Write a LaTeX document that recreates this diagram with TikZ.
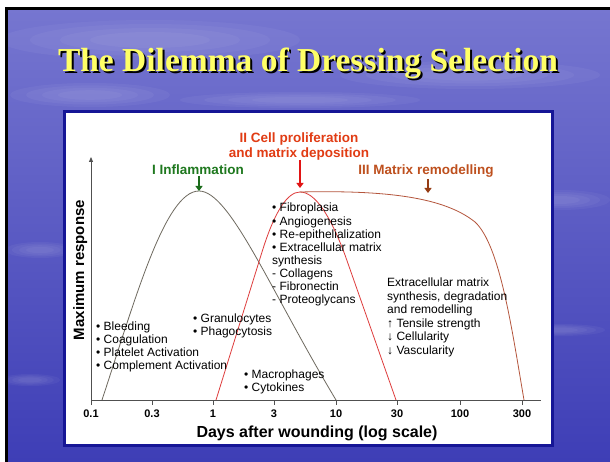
\documentclass[tikz,border=0pt]{standalone}
\usepackage{fontspec}
\setmainfont{Liberation Sans}
\newfontfamily\titlefont{Liberation Serif}
\usetikzlibrary{arrows.meta}
\definecolor{bgtop}{RGB}{118,118,208}
\definecolor{bgbot}{RGB}{62,62,182}
\definecolor{panelborder}{RGB}{22,22,150}
\definecolor{titleyellow}{RGB}{255,255,102}
\definecolor{curveone}{RGB}{110,105,95}
\definecolor{curvetwo}{RGB}{222,60,60}
\definecolor{curvethree}{RGB}{180,85,60}
\definecolor{greenlab}{RGB}{30,120,30}
\definecolor{redlab}{RGB}{225,60,20}
\definecolor{redarrow}{RGB}{225,20,20}
\definecolor{brownlab}{RGB}{190,80,30}
\definecolor{brownarrow}{RGB}{150,60,20}
\definecolor{axisgray}{RGB}{80,80,80}
\begin{document}
\begin{tikzpicture}[x=1pt,y=-1pt,
  axis/.style={axisgray,line width=0.8},
  ticklab/.style={font=\bfseries\fontsize{11}{12}\selectfont,anchor=base,inner sep=0},
  blk/.style={anchor=base west,inner sep=0,font=\fontsize{12}{13.1}\selectfont},
  phase/.style={anchor=base,inner sep=0,font=\bfseries\fontsize{13.5}{15}\selectfont},
  curve/.style={line width=0.8},
  phasearrow/.style={line width=2.4,-{Triangle[length=5pt,width=7pt]}},
  cloud/.style={white,opacity=0.045}]
\useasboundingbox (0,0) rectangle (610,462);
\fill[white] (0,0) rectangle (610,462);
\shade[top color=bgtop,bottom color=bgbot] (6.5,8.5) rectangle (610,462);
\foreach \cx/\cy/\rx/\ry in {150/40/150/20,470/75/130/14,90/95/80/12,560/200/50/10,40/250/35/8,300/100/120/8,560/330/45/6,30/380/30/6}{
  \foreach \s in {1,0.8,0.6,0.4}{
    \fill[cloud] (\cx,\cy) ellipse ({\rx*\s} and {\ry*\s});
  }
}
\draw[black,line width=2.5] (6.5,462) -- (6.5,8.5) -- (610,8.5);
% title with shadow
\node[anchor=base,inner sep=0,text=titleyellow,font=\titlefont\bfseries\fontsize{33.5}{36}\selectfont] (title) at (308,72)
  {\rlap{\hspace{2pt}\raisebox{-2pt}{\color{black}The Dilemma of Dressing Selection}}The Dilemma of Dressing Selection};
% panel
\draw[panelborder,line width=3,fill=white] (64.5,112) rectangle (552,445);
% axes
\coordinate (origin) at (91,400);
\coordinate (ytop) at (91,157);
\coordinate (xend) at (541,400);
\draw[axis,-{Triangle[length=5pt,width=4pt]}] (91,405) -- (ytop);
\draw[axis] (origin) -- (xend);
\foreach \xx/\lab [count=\i] in {91/0.1,152/0.3,213/1,274/3,336/10,397/30,460/100,522/300}{
  \draw[axis] (\xx,400) -- (\xx,405);
  \node[ticklab] (tick\i) at (\xx,417) {\lab};
}
\node[anchor=base,inner sep=0,font=\bfseries\fontsize{16}{18}\selectfont] (xlabel) at (317,437) {Days after wounding (log scale)};
\node[rotate=90,anchor=base,inner sep=0,font=\bfseries\fontsize{15}{16}\selectfont] (ylabel) at (84,270) {Maximum response};
% curves
\draw[curve,curveone] (102,400) .. controls (135,300) and (165,191) .. (199,191)
  .. controls (230,191) and (270,290) .. (336,400);
\draw[curve,curvetwo] (216,400) -- (262,252) .. controls (275,210) and (288,192) .. (300,192)
  .. controls (315,192) and (330,215) .. (345,255) -- (396,400);
\draw[curve,curvethree] (300,192) .. controls (390,190) and (445,198) .. (475,222)
  .. controls (500,245) and (512,330) .. (524,400);
% phase labels
\node[phase,text=greenlab] (inflam) at (198,175) {I Inflammation};
\node[phase,text=redlab] (prolif1) at (299,143) {II Cell proliferation};
\node[phase,text=redlab] (prolif2) at (299,158) {and matrix deposition};
\node[phase,text=brownlab] (remod) at (426,175) {III Matrix remodelling};
\coordinate (ga) at (199,176); \coordinate (gb) at (199,191);
\coordinate (ra) at (300,160); \coordinate (rb) at (300,188);
\coordinate (ba) at (428,179); \coordinate (bb) at (428,193);
\draw[phasearrow,greenlab!90!black] (ga) -- (gb);
\draw[phasearrow,redarrow,line width=2] (ra) -- (rb);
\draw[phasearrow,brownarrow] (ba) -- (bb);
% text blocks
\node[blk] (prolifblock) at (272,212) {\begin{tabular}[t]{@{}l@{}}• Fibroplasia\\• Angiogenesis\\• Re-epithelialization\\• Extracellular matrix\\synthesis\\- Collagens\\- Fibronectin\\- Proteoglycans\end{tabular}};
\node[blk] (earlyblock) at (96,330) {\begin{tabular}[t]{@{}l@{}}• Bleeding\\• Coagulation\\• Platelet Activation\\• Complement Activation\end{tabular}};
\node[blk] (granblock) at (193,322) {\begin{tabular}[t]{@{}l@{}}• Granulocytes\\• Phagocytosis\end{tabular}};
\node[blk] (macroblock) at (244,378) {\begin{tabular}[t]{@{}l@{}}• Macrophages\\• Cytokines\end{tabular}};
\node[blk,font=\fontsize{12}{13.4}\selectfont] (remodblock) at (387,287) {\begin{tabular}[t]{@{}l@{}}Extracellular matrix\\synthesis, degradation\\and remodelling\\↑ Tensile strength\\↓ Cellularity\\↓ Vascularity\end{tabular}};
\end{tikzpicture}
\end{document}
